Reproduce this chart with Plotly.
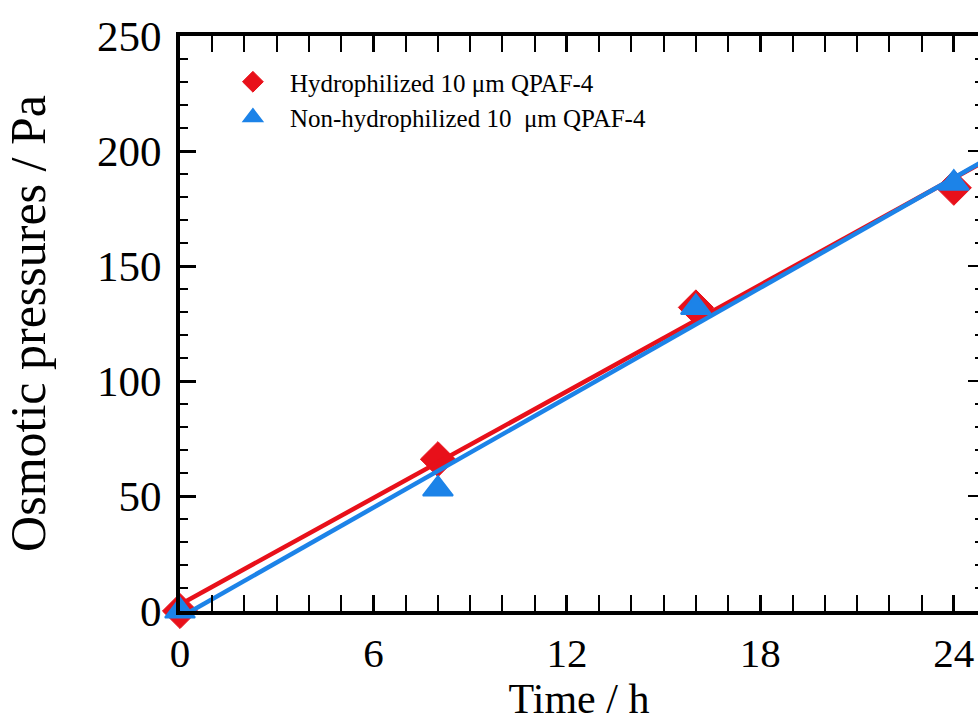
import numpy as np
import plotly.graph_objects as go

# ---- data ----
time_h = [0, 8, 16, 24]
hydrophilized = [0, 66, 132, 184]
non_hydrophilized = [0, 53, 132, 186]
series_names = ["Hydrophilized 10 \u03bcm QPAF-4", "Non-hydrophilized 10 \u00a0\u03bcm QPAF-4"]
x_ticks = [0, 6, 12, 18, 24]
y_ticks = [0, 50, 100, 150, 200, 250]

RED = "#E8101A"
BLUE = "#1C83E8"
FONT = "Liberation Serif"

# linear fits through the measured points
fit_x = np.array([0, 25])
p_red = np.polyfit(time_h, hydrophilized, 1)
p_blue = np.polyfit(time_h, non_hydrophilized, 1)

fig = go.Figure()
fig.add_trace(go.Scatter(x=time_h, y=hydrophilized, mode="markers", name=series_names[0],
                         cliponaxis=False,
                         marker=dict(symbol="diamond", size=27, color=RED,
                                     line=dict(color=RED, width=1))))
fig.add_trace(go.Scatter(x=fit_x, y=np.polyval(p_red, fit_x), mode="lines", showlegend=False,
                         line=dict(color=RED, width=4.5)))
fig.add_trace(go.Scatter(x=fit_x, y=np.polyval(p_blue, fit_x), mode="lines", showlegend=False,
                         line=dict(color=BLUE, width=4.5)))
fig.add_trace(go.Scatter(x=time_h, y=non_hydrophilized, mode="markers", name=series_names[1],
                         cliponaxis=False,
                         marker=dict(symbol="triangle-up", size=26, color=BLUE,
                                     line=dict(color=BLUE, width=2))))

# invisible trace to carry the right-hand tick axis
fig.add_trace(go.Scatter(x=[None], y=[None], yaxis="y2", showlegend=False, hoverinfo="skip"))

axis_common = dict(
    showgrid=False, zeroline=False, showline=True, linecolor="black", linewidth=4,
    ticks="inside", tickcolor="black", tickwidth=2.5, ticklen=16, automargin=False,
)

fig.update_layout(
    width=978, height=722,
    margin=dict(l=180, r=0, t=36, b=111),
    paper_bgcolor="white", plot_bgcolor="white",
    font=dict(family=FONT, color="black"),
    xaxis=dict(
        **axis_common, range=[0, 24.75], tickvals=x_ticks, mirror="allticks",
        tickfont=dict(family=FONT, size=41, color="black"),
        minor=dict(dtick=1, ticklen=8, tickwidth=2, tickcolor="black", ticks="inside"),
        title=dict(text="Time / h", font=dict(family=FONT, size=42, color="black"), standoff=10),
        ticklabelstandoff=3,
    ),
    yaxis=dict(
        **axis_common, range=[0, 250], tickvals=y_ticks,
        tickfont=dict(family=FONT, size=43, color="black"),
        minor=dict(dtick=10, ticklen=8, tickwidth=2, tickcolor="black", ticks="inside"),
        title=dict(text="Osmotic pressures / Pa", font=dict(family=FONT, size=50, color="black"), standoff=36),
        ticklabelstandoff=6,
    ),
    yaxis2=dict(
        overlaying="y", side="right", range=[0, 250], tickvals=y_ticks, automargin=False,
        showgrid=False, zeroline=False, showline=False, showticklabels=False,
        ticks="inside", ticklen=10, tickwidth=2, tickcolor="black",
        minor=dict(dtick=10, ticklen=3, tickwidth=2, tickcolor="black", ticks="inside"),
    ),
    legend=dict(
        x=0.045, y=0.96, xanchor="left", yanchor="top",
        bgcolor="rgba(0,0,0,0)", font=dict(family=FONT, size=25, color="black"),
        itemwidth=64, tracegroupgap=0,
    ),
    showlegend=True,
)

fig.write_html("out.html")
